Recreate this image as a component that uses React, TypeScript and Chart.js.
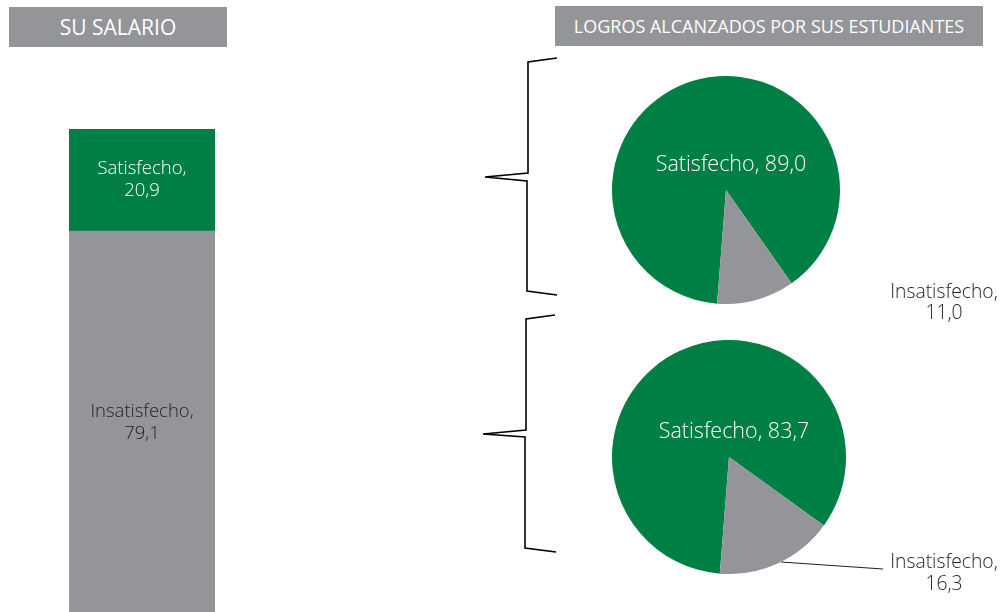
import React, { useEffect, useRef } from "react";
import { Chart, registerables } from "chart.js";

Chart.register(...registerables);

const GREEN = "#007f45";
const GRAY = "#939598";
const FONT = "'Open Sans', 'DejaVu Sans', sans-serif";

// Data
const barCategories = ["Su salario"];
const barSeriesNames = ["Insatisfecho", "Satisfecho"];
const barInsatisfecho = [79.1];
const barSatisfecho = [20.9];

const pieLabels = ["Satisfecho", "Insatisfecho"];
const pie1Values = [89.0, 11.0];
const pie2Values = [83.7, 16.3];

const titles = ["SU SALARIO", "LOGROS ALCANZADOS POR SUS ESTUDIANTES"];

const fmt = (v: number) => v.toFixed(1).replace(".", ",");

function drawCentered(ctx: CanvasRenderingContext2D, lines: string[], x: number, y: number, lh: number, size: number, color: string) {
  ctx.save();
  ctx.font = `300 ${size}px ${FONT}`;
  ctx.fillStyle = color;
  ctx.textAlign = "center";
  ctx.textBaseline = "middle";
  lines.forEach((l, i) => ctx.fillText(l, x, y + i * lh));
  ctx.restore();
}

const barLabelPlugin = {
  id: "barLabels",
  afterDatasetsDraw(chart: any) {
    const ctx = chart.ctx;
    chart.data.datasets.forEach((ds: any, di: number) => {
      const meta = chart.getDatasetMeta(di);
      meta.data.forEach((el: any, i: number) => {
        const top = Math.min(el.y, el.base);
        const bot = Math.max(el.y, el.base);
        let cy = (top + bot) / 2;
        if (di === 0) cy = 423; // visible part center
        drawCentered(ctx, [ds.label + ",", fmt(ds.data[i])], el.x, cy - 11, 22, 18.5, di === 1 ? "#ffffff" : "#231f20");
      });
    });
  },
};

const overlayPlugin = {
  id: "overlay",
  afterDraw(chart: any) {
    const ctx = chart.ctx;
    ctx.save();
    ctx.strokeStyle = "#000";
    ctx.lineWidth = 1.6;
    ctx.lineJoin = "miter";
    const braces = [
      [[557, 58], [528, 62], [528, 173], [485, 177], [527, 181], [527, 291], [557, 295]],
      [[555, 315], [526, 319], [526, 430], [483, 434], [525, 437], [525, 548], [556, 552]],
    ];
    braces.forEach((pts) => {
      ctx.beginPath();
      pts.forEach((p, i) => (i ? ctx.lineTo(p[0], p[1]) : ctx.moveTo(p[0], p[1])));
      ctx.stroke();
    });
    // leader line
    ctx.strokeStyle = "#231f20";
    ctx.lineWidth = 1;
    ctx.beginPath();
    ctx.moveTo(781, 562);
    ctx.lineTo(883, 569);
    ctx.stroke();
    ctx.restore();
    drawCentered(ctx, [pieLabels[1] + ",", fmt(pie1Values[1])], 944, 293, 21, 19.3, "#231f20");
    drawCentered(ctx, [pieLabels[1] + ",", fmt(pie2Values[1])], 944, 563, 22, 19.3, "#231f20");
  },
};

const pieLabelPlugin = {
  id: "pieLabel",
  afterDatasetsDraw(chart: any) {
    const el = chart.getDatasetMeta(0).data[0];
    const v = chart.data.datasets[0].data[0];
    drawCentered(chart.ctx, [chart.data.labels[0] + ", " + fmt(v)], el.x + 5, el.y - 25, 20, 21.5, "#ffffff");
  },
};

function makePie(canvas: HTMLCanvasElement, values: number[]) {
  return new Chart(canvas, {
    type: "pie",
    data: {
      labels: pieLabels,
      datasets: [{ data: values, backgroundColor: [GREEN, GRAY], borderWidth: 0 }],
    },
    options: {
      responsive: false,
      animation: false,
      rotation: 184.5,
      layout: { padding: 0 },
      plugins: { legend: { display: false }, tooltip: { enabled: false } },
    },
    plugins: [pieLabelPlugin],
  });
}

export default function App() {
  const barRef = useRef<HTMLCanvasElement>(null);
  const pie1Ref = useRef<HTMLCanvasElement>(null);
  const pie2Ref = useRef<HTMLCanvasElement>(null);

  useEffect(() => {
    document.body.style.margin = "0";
    const bar = new Chart(barRef.current!, {
      type: "bar",
      data: {
        labels: barCategories,
        datasets: [
          { label: barSeriesNames[0], data: barInsatisfecho, backgroundColor: GRAY, borderWidth: 0 },
          { label: barSeriesNames[1], data: barSatisfecho, backgroundColor: GREEN, borderWidth: 0 },
        ],
      },
      options: {
        responsive: false,
        animation: false,
        layout: { padding: { left: 69, right: 789, top: 129, bottom: 8 } },
        datasets: { bar: { barPercentage: 1, categoryPercentage: 1 } },
        scales: {
          x: { stacked: true, display: false },
          y: { stacked: true, display: false, min: 0, max: 100 },
        },
        plugins: { legend: { display: false }, tooltip: { enabled: false } },
      },
      plugins: [barLabelPlugin, overlayPlugin],
    });
    const p1 = makePie(pie1Ref.current!, pie1Values);
    const p2 = makePie(pie2Ref.current!, pie2Values);
    return () => {
      bar.destroy();
      p1.destroy();
      p2.destroy();
    };
  }, []);

  const titleStyle = (left: number, top: number, width: number, size: number): React.CSSProperties => ({
    position: "absolute",
    left,
    top,
    width,
    height: 40,
    background: GRAY,
    color: "#fff",
    fontFamily: FONT,
    fontWeight: 400,
    fontSize: size,
    lineHeight: "40px",
    textAlign: "center",
  });

  return (
    <div style={{ position: "relative", width: 1004, height: 612, overflow: "hidden", background: "#fff" }}>
      <canvas ref={barRef} width={1004} height={625} style={{ position: "absolute", left: 0, top: 0 }} />
      <canvas ref={pie1Ref} width={228} height={228} style={{ position: "absolute", left: 612, top: 76 }} />
      <canvas ref={pie2Ref} width={234} height={234} style={{ position: "absolute", left: 612, top: 340 }} />
      <div style={titleStyle(9, 7, 218, 21)}>{titles[0]}</div>
      <div style={titleStyle(555, 6, 428, 18)}>{titles[1]}</div>
    </div>
  );
}
